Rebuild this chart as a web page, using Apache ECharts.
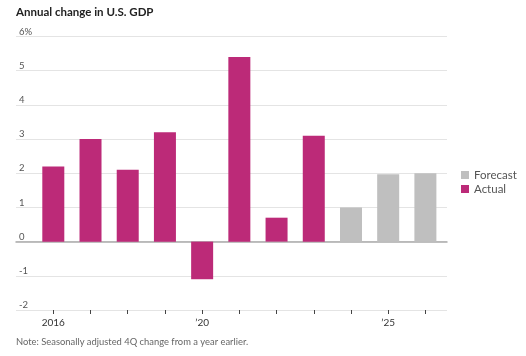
<!DOCTYPE html>
<html>
<head>
<meta charset="utf-8">
<script src="https://cdn.jsdelivr.net/npm/echarts@6/dist/echarts.min.js"></script>
<style>html,body{margin:0;padding:0;background:#fff;}#c{width:526px;height:356px;}</style>
</head>
<body>
<div id="c"></div>
<script>
var categories = ['2016','2017','2018','2019','2020','2021','2022','2023','2024','2025','2026'];
var tickLabels = ['2016','','','','\u201920','','','','','\u201925',''];
var actual = [2.2, 3.0, 2.1, 3.2, -1.1, 5.4, 0.7, 3.1, null, null, null];
var forecast = [null, null, null, null, null, null, null, null, 1.0, 1.97, 2.0];
var yLabels = {'-2':'-2','-1':'-1','0':'0','1':'1','2':'2','3':'3','4':'4','5':'5','6':'6%'};

var FONT = 'Lato';
var chart = echarts.init(document.getElementById('c'), null, {renderer:'canvas'});
chart.setOption({
  animation: false,
  backgroundColor: '#fff',
  title: [
    {text: 'Annual change in U.S. GDP', left: 11, top: 1,
     textStyle: {fontFamily: FONT, fontSize: 11.5, fontWeight: 'bold', color: '#222'}},
    {text: 'Note: Seasonally adjusted 4Q change from a year earlier.', left: 11, top: 332,
     textStyle: {fontFamily: FONT, fontSize: 9.4, fontWeight: 'normal', color: '#666'}}
  ],
  legend: {
    data: ['Forecast', 'Actual'], orient: 'vertical', left: 456, top: 164,
    itemWidth: 8, itemHeight: 8, itemGap: 2, icon: 'rect',
    textStyle: {fontFamily: FONT, fontSize: 11.5, color: '#555'}
  },
  grid: [
    {left: 16, right: 79, top: 36.5, bottom: 46},
    {left: 34.7, right: 82, top: 36.5, bottom: 46}
  ],
  xAxis: [
    {gridIndex: 0, type: 'value', min: 0, max: 1, axisLabel: {show: false}, axisTick: {show: false},
     splitLine: {show: false}, axisLine: {show: true, onZero: true, lineStyle: {color: '#aaa', width: 1.5}}},
    {gridIndex: 1, type: 'category', data: categories, position: 'bottom',
     axisLine: {show: false, onZero: false},
     axisTick: {show: true, alignWithLabel: true, length: 4, interval: 0, lineStyle: {color: '#444'}},
     axisLabel: {interval: 0, margin: 8, fontFamily: FONT, fontSize: 10, color: '#333',
       formatter: function (v, i) { return tickLabels[i]; }}}
  ],
  yAxis: [
    {gridIndex: 0, type: 'value', min: -2, max: 6, interval: 1,
     axisLine: {show: false}, axisTick: {show: false},
     splitLine: {show: true, lineStyle: {color: '#e4e4e4', width: 1}},
     axisLabel: {inside: true, margin: 3, verticalAlign: 'bottom', padding: [0,0,0,0],
       fontFamily: FONT, fontSize: 9.5, color: '#555',
       formatter: function (v) { return yLabels[String(v)]; }}},
    {gridIndex: 1, type: 'value', min: -2, max: 6, interval: 1, show: false}
  ],
  series: [
    {name: 'Actual', type: 'bar', xAxisIndex: 1, yAxisIndex: 1, stack: 'g', barWidth: 22,
     itemStyle: {color: '#BC2A78'}, data: actual},
    {name: 'Forecast', type: 'bar', xAxisIndex: 1, yAxisIndex: 1, stack: 'g', barWidth: 22,
     itemStyle: {color: '#BFBFBF'}, data: forecast}
  ]
});
</script>
</body>
</html>
